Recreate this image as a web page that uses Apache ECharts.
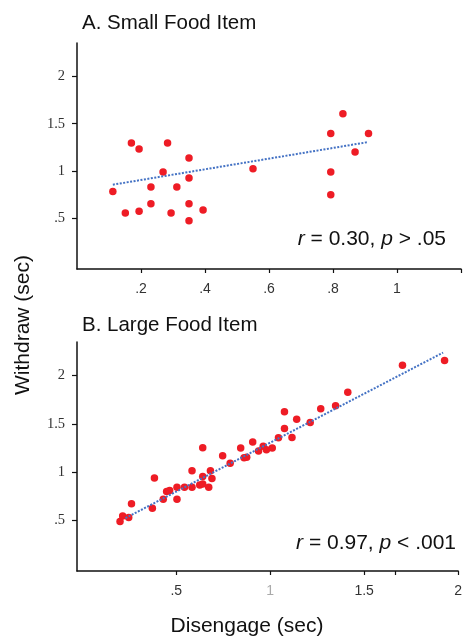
<!DOCTYPE html>
<html>
<head>
<meta charset="utf-8">
<script src="https://cdn.jsdelivr.net/npm/echarts@6/dist/echarts.min.js"></script>
<style>
html,body{margin:0;padding:0;background:#fff;}
#c{width:465px;height:639px;}
</style>
</head>
<body>
<div id="c"></div>
<script>
// Panel A: Small Food Item
var smallX = [0.112,0.151,0.170,0.194,0.194,0.231,0.231,0.269,0.283,0.294,0.312,0.350,0.350,0.350,0.350,0.394,0.550,0.793,0.793,0.793,0.831,0.869,0.911];
var smallY = [0.785,0.560,1.298,1.235,0.577,0.834,0.658,0.992,1.298,0.560,0.834,1.140,0.929,0.658,0.479,0.591,1.027,1.397,0.992,0.753,1.604,1.203,1.397];
var trendA = [[0.112,0.858],[0.907,1.305]];
// Panel B: Large Food Item
var largeX = [0.201,0.215,0.247,0.262,0.373,0.384,0.431,0.449,0.465,0.504,0.504,0.544,0.584,0.584,0.625,0.641,0.641,0.641,0.673,0.682,0.690,
              0.747,0.787,0.843,0.861,0.875,0.907,0.938,0.963,0.980,1.011,1.044,1.076,1.076,1.116,1.141,1.213,1.269,1.348,1.413,1.704,1.928];
var largeY = [0.484,0.541,0.525,0.669,0.621,0.937,0.716,0.796,0.806,0.716,0.840,0.840,1.012,0.840,0.865,0.953,1.251,0.875,0.840,1.012,0.932,
              1.169,1.091,1.248,1.148,1.152,1.310,1.217,1.266,1.231,1.248,1.354,1.626,1.451,1.358,1.547,1.513,1.657,1.688,1.828,2.109,2.157];
var trendB = [[0.23,0.52],[1.92,2.24]];
// Tick labels and tick marks
var yTicks = [0.5,1,1.5,2];
var xTicksA = [0.2,0.4,0.6,0.8,1];
var xMarksA = [0.2,0.4,0.6,0.8,1,1.2];
var xTicksB = [0.5,1,1.5,2];
var xMarksB = [0.5,1,1.5,1.667,2];
var statA = '{i|r} = 0.30, {i|p} > .05';
var statB = '{i|r} = 0.97, {i|p} < .001';

function pairs(xs, ys){ return xs.map(function(x,i){ return [x, ys[i]]; }); }
function fmt(v){ return String(+v.toFixed(2)).replace(/^0\./,'.'); }

var sans = 'Liberation Sans, Arial, sans-serif';
var serif = 'Liberation Serif, Times New Roman, serif';
var axisLineStyle = {color:'#111', width:1.5};

function yAxis(idx){
  return {
    type:'value', gridIndex: idx, min:-0.03, max:2.35,
    splitLine:{show:false},
    axisLine:{show:true, onZero:false, lineStyle:axisLineStyle},
    axisTick:{show:true, length:5, lineStyle:{color:'#111', width:1.2}, customValues: yTicks},
    axisLabel:{fontFamily:serif, fontSize:14.5, color:'#333', margin:12, customValues: yTicks, formatter: fmt}
  };
}
function xAxis(idx, min, max, ticks, marks){
  return {
    type:'value', gridIndex: idx, min:min, max:max,
    splitLine:{show:false},
    axisLine:{show:true, onZero:false, lineStyle:axisLineStyle},
    axisTick:{show:true, length:4, lineStyle:{color:'#111', width:1.2}, customValues: marks},
    axisLabel:{fontFamily:sans, fontSize:14, color:'#333', margin:13, customValues: ticks, formatter: fmt}
  };
}

var xB = xAxis(1, -0.028, 2.0, xTicksB, xMarksB);
xB.axisLabel.color = function(v){ return Math.abs(v - 1) < 1e-9 ? '#aaa' : '#333'; };

var chart = echarts.init(document.getElementById('c'), null, {renderer:'canvas'});
chart.setOption({
  animation:false,
  grid:[
    {left:77, top:43, width:384, height:226},
    {left:77, top:342, width:385, height:229}
  ],
  xAxis:[ xAxis(0, 0, 1.2, xTicksA, xMarksA), xB ],
  yAxis:[ yAxis(0), yAxis(1) ],
  series:[
    {type:'scatter', xAxisIndex:0, yAxisIndex:0, data: pairs(smallX, smallY), symbolSize:7.5,
     itemStyle:{color:'#EE1C25', opacity:1}, z:2},
    {type:'line', xAxisIndex:0, yAxisIndex:0, data: trendA, symbol:'none',
     lineStyle:{color:'#4472C4', width:2, type:[2,1.5]}, z:3},
    {type:'scatter', xAxisIndex:1, yAxisIndex:1, data: pairs(largeX, largeY), symbolSize:7.5,
     itemStyle:{color:'#EE1C25', opacity:1}, z:2},
    {type:'line', xAxisIndex:1, yAxisIndex:1, data: trendB, symbol:'none',
     lineStyle:{color:'#4472C4', width:2, type:[2,1.5]}, z:3}
  ],
  graphic:[
    {type:'text', x:82, y:23.5, style:{text:'A. Small Food Item', fontFamily:sans, fontSize:20.5, fill:'#111', align:'left', verticalAlign:'middle'}},
    {type:'text', x:82, y:325, style:{text:'B. Large Food Item', fontFamily:sans, fontSize:20.5, fill:'#111', align:'left', verticalAlign:'middle'}},
    {type:'text', x:446, y:239, style:{text:statA, fontFamily:sans, fontSize:21, fill:'#111', align:'right', verticalAlign:'middle',
       rich:{i:{fontStyle:'italic', fontFamily:sans, fontSize:21, fill:'#111'}}}},
    {type:'text', x:456, y:543.5, style:{text:statB, fontFamily:sans, fontSize:21, fill:'#111', align:'right', verticalAlign:'middle',
       rich:{i:{fontStyle:'italic', fontFamily:sans, fontSize:21, fill:'#111'}}}},
    {type:'text', x:247, y:626.5, style:{text:'Disengage (sec)', fontFamily:sans, fontSize:21, fill:'#111', align:'center', verticalAlign:'middle'}},
    {type:'text', x:23, y:325, rotation:Math.PI/2, style:{text:'Withdraw (sec)', fontFamily:sans, fontSize:21, fill:'#111', align:'center', verticalAlign:'middle'}}
  ]
});
</script>
</body>
</html>
